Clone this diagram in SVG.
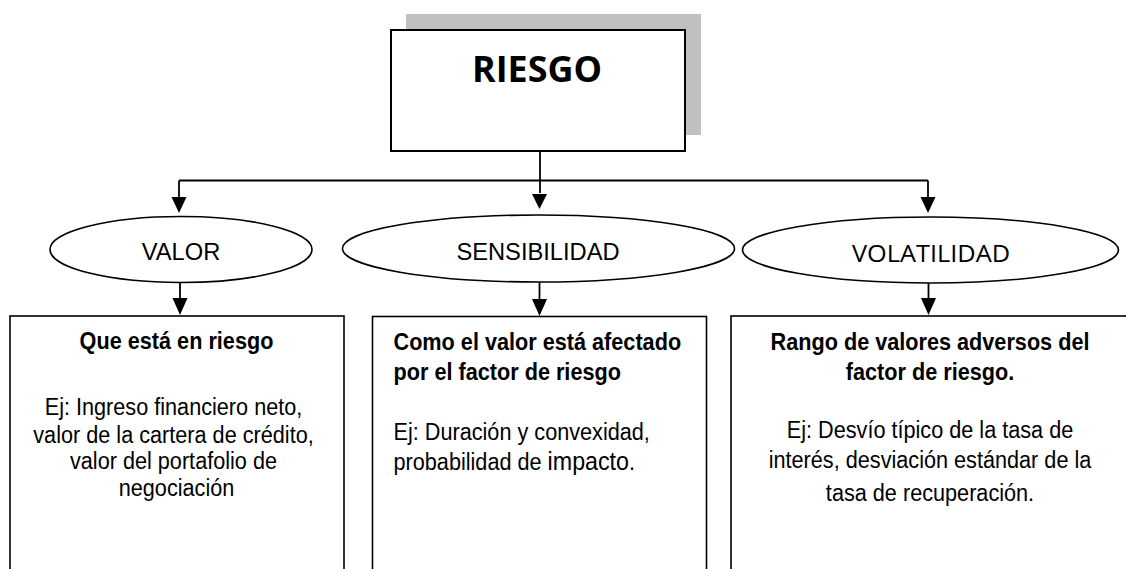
<svg xmlns="http://www.w3.org/2000/svg" width="1126" height="569" viewBox="0 0 1126 569">
<style>
.box{fill:#fff;stroke:#000;stroke-width:1.6}
.ell{fill:#fff;stroke:#000;stroke-width:1.6}
.ln{fill:none;stroke:#000;stroke-width:1.8}
.t{font-family:"Liberation Sans",Arial,sans-serif;font-size:23.3px;fill:#000}
.b{font-weight:bold}
.lab{font-family:"Liberation Sans",Arial,sans-serif;font-size:23.7px;fill:#000}
</style>
<rect width="1126" height="569" fill="#fff"/>
<g id="riesgo">
<rect x="406" y="14" width="295" height="121" fill="#c0c0c0"/>
<rect x="391" y="30" width="294" height="121" fill="#fff" stroke="#000" stroke-width="2"/>
<text x="537" y="82" text-anchor="middle" font-family="'Open Sans','Liberation Sans',sans-serif" font-weight="bold" font-size="36" textLength="130" lengthAdjust="spacingAndGlyphs">RIESGO</text>
</g>
<g id="connectors">
<path class="ln" d="M540,151 V193"/>
<path d="M532,194 L547,194 L539.5,209 Z" fill="#000"/>
<path class="ln" d="M179,180.5 H928"/>
<path class="ln" d="M179,180.5 V197"/>
<path d="M171.5,197 L186.5,197 L179,213 Z" fill="#000"/>
<path class="ln" d="M928,180.5 V197"/>
<path d="M920.5,197 L935.5,197 L928,213 Z" fill="#000"/>
<path class="ln" d="M180,282 V298"/>
<path d="M172.5,298 L187.5,298 L180,315 Z" fill="#000"/>
<path class="ln" d="M539.5,282 V299"/>
<path d="M532,299 L547,299 L539.5,316 Z" fill="#000"/>
<path class="ln" d="M928.5,283 V298"/>
<path d="M921,298 L936,298 L928.5,315 Z" fill="#000"/>
</g>
<g id="valor">
<ellipse class="ell" cx="181" cy="249.5" rx="131" ry="33"/>
<text class="lab" x="181" y="260" text-anchor="middle">VALOR</text>
</g>
<g id="sensibilidad">
<ellipse class="ell" cx="538.5" cy="248.5" rx="196" ry="33.5"/>
<text class="lab" x="538" y="260" text-anchor="middle">SENSIBILIDAD</text>
</g>
<g id="volatilidad">
<ellipse class="ell" cx="930.5" cy="250" rx="188" ry="33"/>
<text x="931" y="261.5" text-anchor="middle" font-family="'Open Sans','Liberation Sans',sans-serif" font-size="24" fill="#000" textLength="158" lengthAdjust="spacingAndGlyphs">VOLATILIDAD</text>
</g>
<g id="box-valor">
<rect class="box" x="10" y="316" width="334" height="270"/>
<g transform="translate(176.5,0) scale(0.93,1)">
<text class="t b" x="0" y="349.5" text-anchor="middle">Que está en riesgo</text>
<text class="t" text-anchor="middle">
<tspan x="0" y="415.5">Ej: Ingreso financiero neto,</tspan>
<tspan x="0" y="443">valor de la cartera de crédito,</tspan>
<tspan x="0" y="469.5">valor del portafolio de</tspan>
<tspan x="0" y="496.5">negociación</tspan>
</text>
</g>
</g>
<g id="box-sensibilidad">
<rect class="box" x="372.5" y="316.5" width="334" height="270"/>
<g transform="translate(393.5,0) scale(0.93,1)">
<text class="t b"><tspan x="0" y="350">Como el valor está afectado</tspan><tspan x="0" y="380">por el factor de riesgo</tspan></text>
<text class="t"><tspan x="0" y="440">Ej: Duración y convexidad,</tspan><tspan x="0" y="470">probabilidad de <tspan font-size="25">impacto</tspan>.</tspan></text>
</g>
</g>
<g id="box-volatilidad">
<rect class="box" x="731" y="316" width="410" height="270"/>
<g transform="translate(930,0) scale(0.93,1)">
<text class="t b" text-anchor="middle"><tspan x="0" y="350">Rango de valores adversos del</tspan><tspan x="0" y="380">factor de riesgo.</tspan></text>
<text class="t" text-anchor="middle"><tspan x="0" y="438">Ej: Desvío típico de la tasa de</tspan><tspan x="0" y="468">interés, desviación estándar de la</tspan><tspan x="0" y="501.5">tasa de recuperación.</tspan></text>
</g>
</g>
</svg>
